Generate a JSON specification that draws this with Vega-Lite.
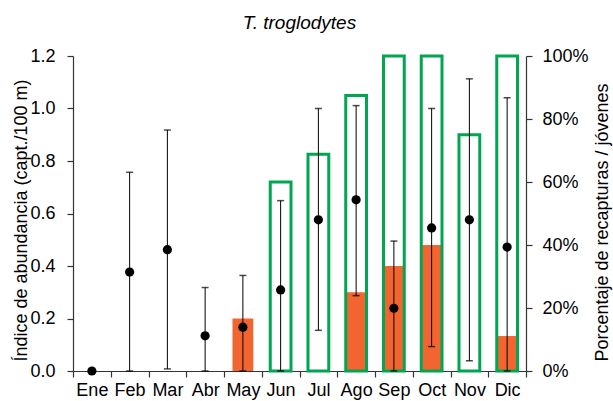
{
  "$schema": "https://vega.github.io/schema/vega-lite/v6.json",
  "autosize": "none",
  "width": 453,
  "height": 315,
  "padding": {"left": 73, "top": 56, "right": 87, "bottom": 30},
  "background": "white",
  "config": {
    "font": "Liberation Sans",
    "view": {"stroke": null},
    "axis": {
      "grid": false,
      "labelFont": "Liberation Sans",
      "titleFont": "Liberation Sans",
      "labelFontSize": 18,
      "titleFontSize": 18,
      "titleFontWeight": "normal",
      "labelColor": "#000",
      "titleColor": "#000",
      "domainColor": "#333",
      "tickColor": "#333",
      "domainWidth": 1.2,
      "tickWidth": 1.2
    }
  },
  "title": {
    "text": "T. troglodytes",
    "fontStyle": "italic",
    "fontWeight": "normal",
    "fontSize": 19,
    "font": "Liberation Sans",
    "color": "#000",
    "anchor": "middle",
    "offset": 14
  },
  "data": {
    "values": [
      {"mes": "Ene", "abund": 0, "lo": null, "hi": null, "recap": null, "juv": null},
      {"mes": "Feb", "abund": 0.377, "lo": 0, "hi": 0.757, "recap": null, "juv": null},
      {"mes": "Mar", "abund": 0.462, "lo": 0.008, "hi": 0.918, "recap": null, "juv": null},
      {"mes": "Abr", "abund": 0.134, "lo": 0, "hi": 0.318, "recap": null, "juv": null},
      {"mes": "May", "abund": 0.167, "lo": 0, "hi": 0.364, "recap": 16.7, "juv": null},
      {"mes": "Jun", "abund": 0.309, "lo": 0, "hi": 0.649, "recap": null, "juv": 60},
      {"mes": "Jul", "abund": 0.576, "lo": 0.155, "hi": 1.0, "recap": null, "juv": 68.8},
      {"mes": "Ago", "abund": 0.652, "lo": 0.287, "hi": 1.011, "recap": 25, "juv": 87.5},
      {"mes": "Sep", "abund": 0.239, "lo": 0, "hi": 0.495, "recap": 33.3, "juv": 100},
      {"mes": "Oct", "abund": 0.545, "lo": 0.093, "hi": 1.0, "recap": 40, "juv": 100},
      {"mes": "Nov", "abund": 0.576, "lo": 0.039, "hi": 1.113, "recap": null, "juv": 75},
      {"mes": "Dic", "abund": 0.472, "lo": 0, "hi": 1.041, "recap": 11.1, "juv": 100}
    ]
  },
  "encoding": {
    "x": {
      "field": "mes",
      "type": "nominal",
      "sort": ["Ene", "Feb", "Mar", "Abr", "May", "Jun", "Jul", "Ago", "Sep", "Oct", "Nov", "Dic"],
      "scale": {"domain": ["Ene", "Feb", "Mar", "Abr", "May", "Jun", "Jul", "Ago", "Sep", "Oct", "Nov", "Dic"], "paddingInner": 0, "paddingOuter": 0},
      "axis": {
        "title": null,
        "labelAngle": 0,
        "tickBand": "extent",
        "tickSize": 6,
        "labelPadding": 4
      }
    }
  },
  "layer": [
    {
      "encoding": {
        "y": {
          "type": "quantitative",
          "scale": {"domain": [0, 100]},
          "axis": {
            "orient": "right",
            "title": "Porcentaje de recapturas / jóvenes",
            "titleAngle": 270,
            "titleBaseline": "middle",
            "titleAlign": "center",
            "titleX": 76,
            "titleY": 166,
            "values": [0, 20, 40, 60, 80, 100],
            "labelExpr": "datum.value + '%'",
            "tickSize": 6,
            "labelPadding": 10
          }
        }
      },
      "layer": [
        {
          "transform": [{"filter": "datum.recap != null"}],
          "mark": {"type": "bar", "color": "#F26531", "width": {"band": 0.55}},
          "encoding": {"y": {"field": "recap", "type": "quantitative"}}
        },
        {
          "transform": [{"filter": "datum.juv != null"}],
          "mark": {"type": "bar", "filled": false, "stroke": "#00A651", "strokeWidth": 3, "width": {"band": 0.55}},
          "encoding": {"y": {"field": "juv", "type": "quantitative"}}
        }
      ]
    },
    {
      "encoding": {
        "y": {
          "type": "quantitative",
          "scale": {"domain": [0, 1.2]},
          "axis": {
            "orient": "left",
            "title": "Índice de abundancia (capt./100 m)",
            "titleAngle": 270,
            "titleBaseline": "middle",
            "titleAlign": "center",
            "titleX": -52,
            "titleY": 164,
            "values": [0, 0.2, 0.4, 0.6, 0.8, 1.0, 1.2],
            "format": ".1f",
            "tickSize": 6,
            "labelPadding": 12
          }
        }
      },
      "layer": [
        {
          "transform": [{"filter": "datum.hi != null"}],
          "mark": {"type": "errorbar", "color": "#000", "thickness": 1, "ticks": {"size": 7, "color": "#000", "thickness": 1.5}},
          "encoding": {
            "y": {"field": "lo", "type": "quantitative"},
            "y2": {"field": "hi"}
          }
        },
        {
          "mark": {"type": "point", "filled": true, "color": "#000", "opacity": 1, "size": 85},
          "encoding": {"y": {"field": "abund", "type": "quantitative"}}
        }
      ]
    }
  ],
  "resolve": {"scale": {"y": "independent"}}
}
